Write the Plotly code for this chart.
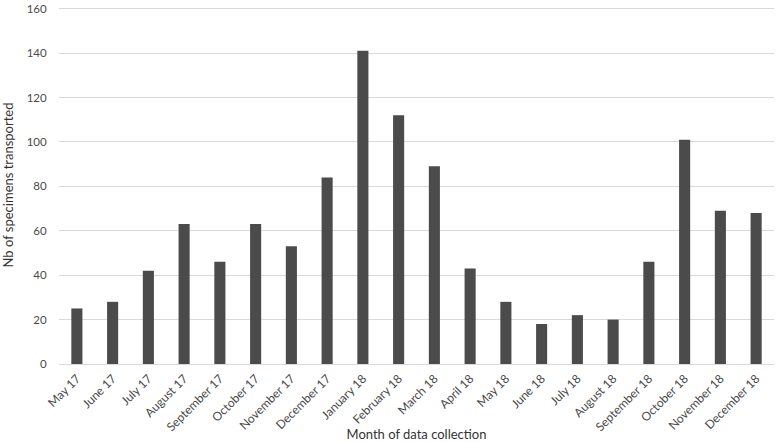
import plotly.graph_objects as go

months = ["May 17", "June 17", "July 17", "August 17", "September 17", "October 17",
          "November 17", "December 17", "January 18", "February 18", "March 18",
          "April 18", "May 18", "June 18", "July 18", "August 18", "September 18",
          "October 18", "November 18", "December 18"]
counts = [25, 28, 42, 63, 46, 63, 53, 84, 141, 112, 89, 43, 28, 18, 22, 20, 46, 101, 69, 68]
y_ticks = [0, 20, 40, 60, 80, 100, 120, 140, 160]

fig = go.Figure(go.Bar(x=months, y=counts, marker=dict(color="#4b4b4b", line=dict(width=0))))

font_family = "Lato, Open Sans, sans-serif"
fig.update_layout(
    width=776, height=442,
    margin=dict(l=59, r=2, t=6, b=78),
    paper_bgcolor="white", plot_bgcolor="white",
    bargap=0.69,
    showlegend=False,
    font=dict(family=font_family, color="#4a4a4a", size=11),
    xaxis=dict(
        tickangle=-45, tickfont=dict(size=12, color="#4a4a4a"),
        showline=True, linecolor="#d9d9d9", linewidth=1,
        showgrid=False, ticks="outside", ticklen=2, tickcolor="rgba(0,0,0,0)",
        title=dict(text="Month of data collection", font=dict(size=13, color="#333333"), standoff=1),
        automargin=False,
    ),
    yaxis=dict(
        range=[0, 161.2], tickvals=y_ticks,
        showgrid=True, gridcolor="#d9d9d9", gridwidth=1,
        zeroline=False, showline=False,
        ticks="outside", ticklen=9, tickcolor="rgba(0,0,0,0)",
        tickfont=dict(size=11.5, color="#4a4a4a"),
        title=dict(text="Nb of specimens transported", font=dict(size=13, color="#333333"), standoff=10),
        automargin=False,
    ),
)
fig.write_html("out.html", config={"displayModeBar": False},
               post_script="document.body.style.margin='0';")
